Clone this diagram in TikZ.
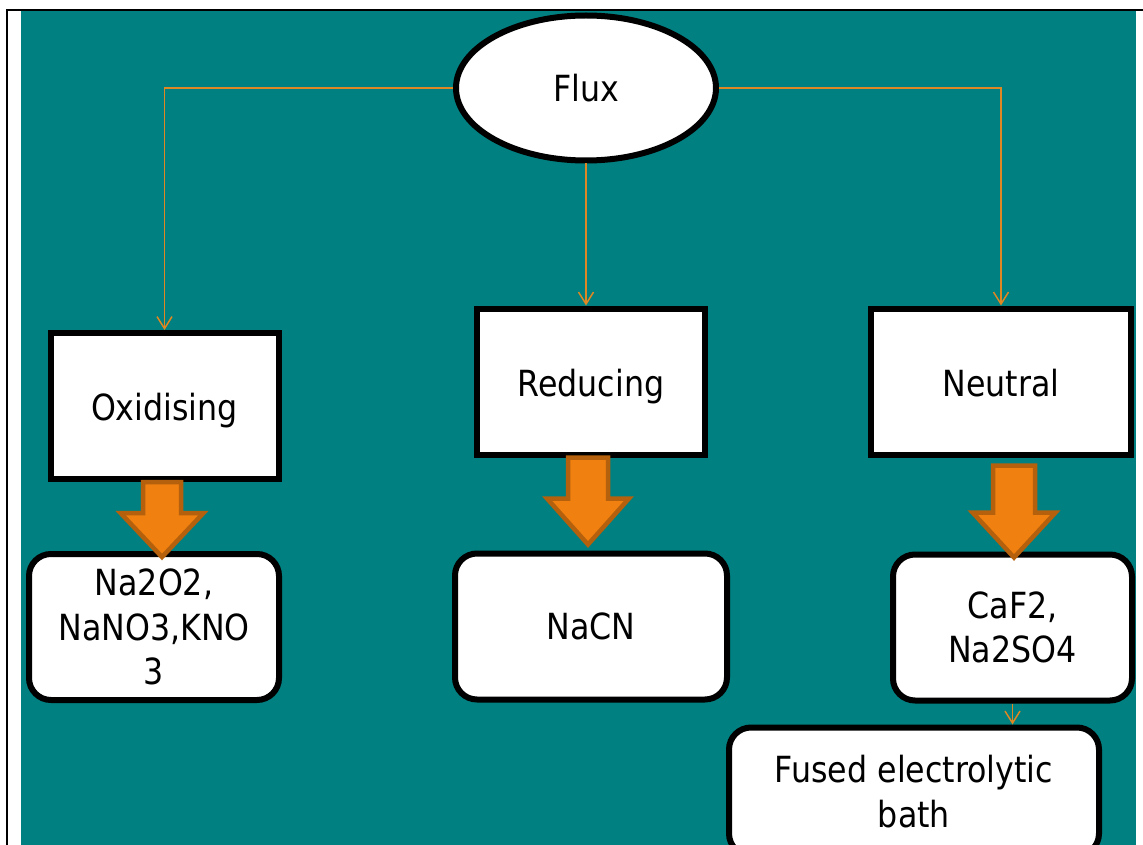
\documentclass[tikz,border=0pt]{standalone}
\usepackage{fontspec}
\setmainfont{DejaVu Sans}[FakeStretch=0.88]
\usetikzlibrary{positioning}
\usetikzlibrary{shapes.geometric}
\usetikzlibrary{arrows.meta}
\definecolor{slideteal}{HTML}{008080}
\definecolor{linkorange}{RGB}{222,135,35}
\definecolor{fatfill}{RGB}{240,128,16}
\definecolor{fatdraw}{RGB}{180,96,12}
\tikzset{%
  every node/.style = {font=\fontsize{36}{44.5}\selectfont},
  fluxnode/.style = {ellipse,draw,fill=white,line width=6pt,
        minimum width=260pt,minimum height=145pt,inner sep=0pt},
  typebox/.style = {rectangle,draw,fill=white,line width=6pt,
        text height=36pt,text depth=7pt,
        minimum width=228pt,minimum height=146pt},
  listbox/.style = {rectangle,draw,fill=white,line width=6pt,
        rounded corners=22pt,align=center,minimum height=146pt},
  thinarrow/.style = {-{Straight Barb[length=12pt,width=15pt]},
        linkorange,line width=1.5pt},
  fatarrow/.style = {fill=fatfill,draw=fatdraw,line width=4.5pt}
}
\begin{document}
\begin{tikzpicture}[x=1pt,y=-1pt,node distance=69pt]
   \useasboundingbox (0,0) rectangle (1143,845);
   \fill[white] (0,0) rectangle (1143,845);
   \fill[slideteal] (21,11) rectangle (1136,850);
   \draw[line width=2pt] (7,860) -- (7,10) -- (1160,10);
   % top and middle row
   \node[fluxnode] (flux) at (586,88) {Flux};
   \node[typebox] (oxid) at (164.5,406) {Oxidising};
   \node[typebox] (reduc) at (591,381.5) {Reducing};
   \node[typebox,minimum width=260pt] (neutral) at (1001,381.5) {Neutral};
   % examples
   \node[listbox,minimum width=250pt] (oxlist) [below=of oxid,xshift=-10.5pt]
        {Na2O2,\\NaNO3,KNO\\3};
   \node[listbox,minimum width=272pt] (nacn) [below=93pt of reduc] {NaCN};
   \node[listbox,minimum width=239pt] (caf) [below=94pt of neutral,xshift=11.5pt]
        {CaF2,\\Na2SO4};
   \node[listbox,minimum width=370pt,minimum height=128pt] (fused)
        [below=21pt of caf,xshift=-98.5pt] {Fused electrolytic\\bath};
   \draw[thinarrow] (flux.west) -| (oxid.north);
   \draw[thinarrow] (flux.south) -- (flux.south |- reduc.north);
   \draw[thinarrow] (flux.east) -| (neutral.north);
   \draw[thinarrow] (caf.south) -- (caf.south |- fused.north);
   \draw[fatarrow] ([xshift=-21.5pt]oxid.south) -- ++(0,31) -- ++(-22.5,0)
        -- ++(41.5,44) -- ++(41.5,-44) -- ++(-22.5,0) -- ++(0,-31) -- cycle;
   \draw[fatarrow] ([xshift=-23pt]reduc.south) -- ++(0,41) -- ++(-21,0)
        -- ++(41,46) -- ++(41,-46) -- ++(-21,0) -- ++(0,-41) -- cycle;
   \draw[fatarrow] ([xshift=-8pt,yshift=-8pt]neutral.south) -- ++(0,47) -- ++(-20.5,0)
        -- ++(41.5,45) -- ++(41.5,-45) -- ++(-20.5,0) -- ++(0,-47) -- cycle;
\end{tikzpicture}
\end{document}
